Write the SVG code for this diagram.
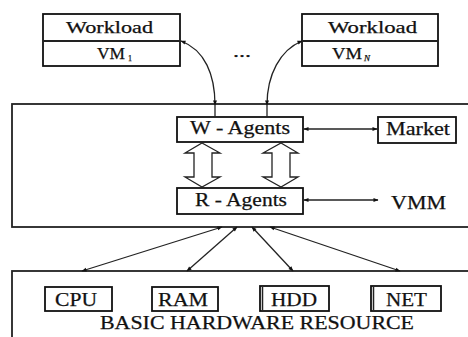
<svg xmlns="http://www.w3.org/2000/svg" width="468" height="337" viewBox="0 0 468 337">
<style>
.box{fill:#fff;stroke:#111;stroke-width:1.8}
.frame{fill:none;stroke:#222;stroke-width:1.8}
.ln{fill:none;stroke:#222;stroke-width:1.3}
.t{font-family:"Liberation Serif","Times New Roman",serif;fill:#111;stroke:#111;stroke-width:0.25}
.hollow{fill:#fff;stroke:#222;stroke-width:1.3}
</style>
<defs>
<marker id="ah" viewBox="0 0 10 10" refX="9" refY="5" markerWidth="7" markerHeight="5" markerUnits="userSpaceOnUse" orient="auto-start-reverse">
<path d="M0,1 L10,5 L0,9 Z" fill="#111"/>
</marker>
</defs>
<rect width="468" height="337" fill="#fff"/>

<g id="vm1">
<rect class="box" x="43" y="14" width="137" height="52"/>
<line class="frame" x1="43" y1="41" x2="180" y2="41"/>
<text class="t" x="66" y="33" font-size="17" textLength="87" lengthAdjust="spacingAndGlyphs">Workload</text>
<text class="t" x="97" y="59" font-size="17" textLength="28" lengthAdjust="spacingAndGlyphs">VM</text>
<text class="t" x="128" y="61" font-size="8">1</text>
</g>

<g id="vmn">
<rect class="box" x="302" y="14" width="136" height="52"/>
<line class="frame" x1="302" y1="41" x2="438" y2="41"/>
<text class="t" x="328" y="33" font-size="17" textLength="89" lengthAdjust="spacingAndGlyphs">Workload</text>
<text class="t" x="332" y="59" font-size="17" textLength="30" lengthAdjust="spacingAndGlyphs">VM</text>
<text class="t" x="364" y="61" font-size="9" font-style="italic">N</text>
</g>

<text class="t" x="233" y="57" font-size="16" textLength="18" lengthAdjust="spacingAndGlyphs">...</text>

<g id="vmm-layer">
<rect class="frame" x="12" y="104" width="470" height="123"/>
<text class="t" x="391" y="209" font-size="18" textLength="55" lengthAdjust="spacingAndGlyphs">VMM</text>
</g>

<g id="w-agents">
<rect class="box" x="177" y="117" width="126" height="25"/>
<text class="t" x="190" y="134" font-size="18" textLength="100" lengthAdjust="spacingAndGlyphs">W - Agents</text>
</g>

<g id="r-agents">
<rect class="box" x="177" y="188" width="126" height="26"/>
<text class="t" x="195" y="206" font-size="18" textLength="92" lengthAdjust="spacingAndGlyphs">R - Agents</text>
</g>

<g id="market">
<rect class="box" x="378" y="117" width="78" height="26"/>
<text class="t" x="386" y="135" font-size="18" textLength="64" lengthAdjust="spacingAndGlyphs">Market</text>
</g>

<g id="hardware">
<rect class="frame" x="12" y="271" width="470" height="80"/>
<text class="t" x="100" y="329" font-size="18" textLength="314" lengthAdjust="spacingAndGlyphs">BASIC HARDWARE RESOURCE</text>
</g>

<g id="cpu">
<rect class="box" x="45" y="287" width="67" height="24"/>
<text class="t" x="55" y="306" font-size="19" textLength="42" lengthAdjust="spacingAndGlyphs">CPU</text>
</g>
<g id="ram">
<rect class="box" x="152" y="287" width="66" height="24"/>
<text class="t" x="158" y="306" font-size="19" textLength="50" lengthAdjust="spacingAndGlyphs">RAM</text>
</g>
<g id="hdd">
<rect class="box" x="260" y="286" width="69" height="25"/>
<line x1="262.5" y1="287" x2="262.5" y2="310" stroke="#222" stroke-width="1.5"/>
<text class="t" x="271" y="306" font-size="19" textLength="46" lengthAdjust="spacingAndGlyphs">HDD</text>
</g>
<g id="net">
<rect class="box" x="371" y="286" width="70" height="25"/>
<line x1="373.5" y1="287" x2="373.5" y2="310" stroke="#222" stroke-width="1.5"/>
<text class="t" x="386" y="306" font-size="19" textLength="41" lengthAdjust="spacingAndGlyphs">NET</text>
</g>

<g id="connectors">
<path class="ln" d="M181,41 C205,50 215,75 215,105" marker-start="url(#ah)" marker-end="url(#ah)"/>
<line class="ln" x1="215" y1="105" x2="215" y2="117"/>
<path class="ln" d="M302,41 C280,50 267,75 267,105" marker-start="url(#ah)" marker-end="url(#ah)"/>
<line class="ln" x1="267" y1="105" x2="267" y2="117"/>
<line class="ln" x1="304" y1="129" x2="377" y2="129" marker-start="url(#ah)" marker-end="url(#ah)"/>
<line class="ln" x1="304" y1="200" x2="378" y2="200" marker-start="url(#ah)" marker-end="url(#ah)"/>
<line class="ln" x1="222" y1="227" x2="82" y2="271" marker-start="url(#ah)" marker-end="url(#ah)"/>
<line class="ln" x1="237" y1="227" x2="187" y2="271" marker-start="url(#ah)" marker-end="url(#ah)"/>
<line class="ln" x1="252" y1="227" x2="293" y2="271" marker-start="url(#ah)" marker-end="url(#ah)"/>
<line class="ln" x1="270" y1="227" x2="400" y2="271" marker-start="url(#ah)" marker-end="url(#ah)"/>
<path class="hollow" d="M202,143 L220,153 L212,153 L212,177 L220,177 L202,187 L185,177 L194,177 L194,153 L185,153 Z"/>
<path class="hollow" d="M281,143 L298,153 L290,153 L290,177 L298,177 L281,187 L263,177 L272,177 L272,153 L263,153 Z"/>
</g>
</svg>
